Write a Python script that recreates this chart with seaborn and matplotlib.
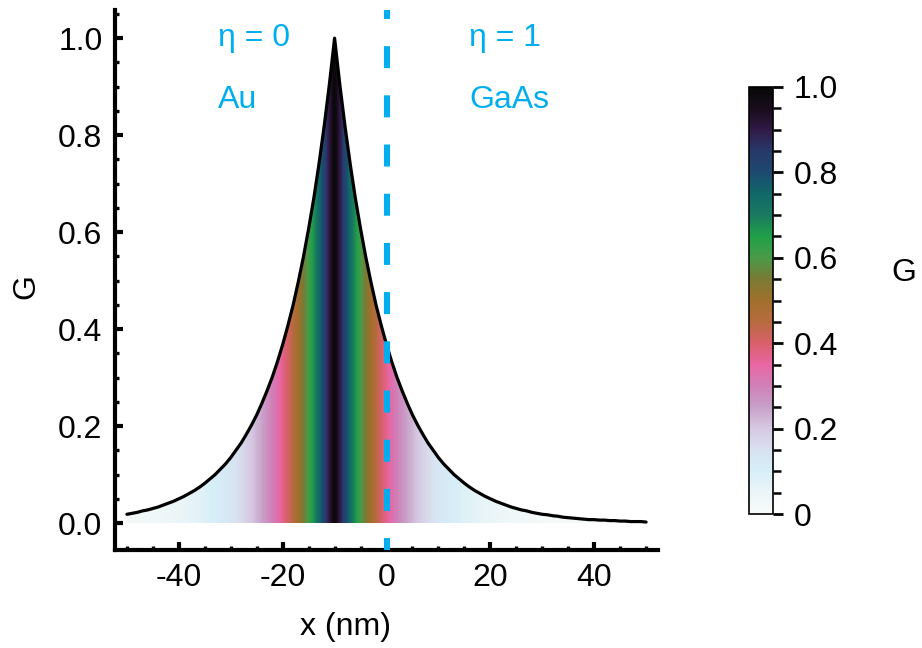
import numpy as np
import matplotlib
matplotlib.use("Agg")
import matplotlib.pyplot as plt
from matplotlib.patches import PathPatch
from matplotlib.cm import ScalarMappable
from matplotlib.colors import Normalize
import seaborn as sns

# Position across the interface (nm) and the normalised quantity G at each position
x_nm = list(range(-50, 51))
g_left = [0.018, 0.020, 0.022, 0.025, 0.027, 0.030, 0.033, 0.037, 0.041, 0.045,
          0.050, 0.055, 0.061, 0.067, 0.074, 0.082, 0.091, 0.100, 0.111, 0.122,
          0.135, 0.150, 0.165, 0.183, 0.202, 0.223, 0.247, 0.273, 0.301, 0.333,
          0.368, 0.407, 0.449, 0.497, 0.549, 0.607, 0.670, 0.741, 0.819, 0.905]
g_peak = [1.000]
g_right = [0.905, 0.819, 0.741, 0.670, 0.607, 0.549, 0.497, 0.449, 0.407, 0.368,
           0.333, 0.301, 0.273, 0.247, 0.223, 0.202, 0.183, 0.165, 0.150, 0.135,
           0.122, 0.111, 0.100, 0.091, 0.082, 0.074, 0.067, 0.061, 0.055, 0.050,
           0.045, 0.041, 0.037, 0.033, 0.030, 0.027, 0.025, 0.022, 0.020, 0.018,
           0.017, 0.015, 0.014, 0.012, 0.011, 0.010, 0.009, 0.008, 0.007, 0.007,
           0.006, 0.006, 0.005, 0.005, 0.004, 0.004, 0.003, 0.003, 0.003, 0.002]
g_values = g_left + g_peak + g_right

interface_x = 0
region_labels = [("η = 0", "Au", -32.5), ("η = 1", "GaAs", 15.9)]
x_ticks = [-40, -20, 0, 20, 40]
y_ticks = [0.0, 0.2, 0.4, 0.6, 0.8, 1.0]
cbar_ticks = [0, 0.2, 0.4, 0.6, 0.8, 1.0]
cbar_ticklabels = ["0", "0.2", "0.4", "0.6", "0.8", "1.0"]

# Colour stops of the G scale, from G = 0 (white) to G = 1 (black), every 0.05
scale_colors = ["#f8fbfa", "#eaf5f7", "#d6eef8", "#d8e2f0", "#d6c8e2",
                "#c8a0c8", "#d080b8", "#e866a4", "#d8606a", "#b86a40",
                "#a0702c", "#7a7a34", "#4a9a48", "#20a048", "#1a7a60",
                "#106868", "#1c4a70", "#283a6a", "#301a48", "#1a0c1c",
                "#080808"]

CYAN = "#00AEEF"
FS = 23

sns.set_style("ticks")
plt.rcParams["font.family"] = ["Liberation Sans", "DejaVu Sans"]
plt.rcParams.update({
    "axes.linewidth": 3.0,
    "axes.edgecolor": "black",
    "axes.labelcolor": "black",
    "text.color": "black",
    "xtick.color": "black",
    "ytick.color": "black",
})

cmap = sns.blend_palette(scale_colors, n_colors=256, as_cmap=True)

fig = plt.figure(figsize=(9.22, 6.48), dpi=100)
ax = fig.add_axes([0.1247, 0.1512, 0.589, 0.8333])

x = np.asarray(x_nm, dtype=float)
g = np.asarray(g_values, dtype=float)

# Area under the curve, coloured column by column by the local value of G
poly = ax.fill_between(x, 0, g, facecolor="none", edgecolor="none")
img = ax.imshow(g[np.newaxis, :], cmap=cmap, vmin=0, vmax=1, aspect="auto",
                interpolation="bilinear", origin="lower",
                extent=(x[0] - 0.5, x[-1] + 0.5, 0, 1), zorder=1)
clip = PathPatch(poly.get_paths()[0], transform=ax.transData,
                 facecolor="none", edgecolor="none")
ax.add_patch(clip)
img.set_clip_path(clip)

sns.lineplot(x=x, y=g, ax=ax, color="black", linewidth=2.3, zorder=3)

ax.set_xlim(-52.3, 52.3)
ax.set_ylim(-0.0557, 1.058)

# Interface between the two materials
ax.plot([interface_x, interface_x], [-0.0557, 1.058], color=CYAN, linewidth=4.4,
        linestyle=(1.65, (3.6, 4.45)), solid_capstyle="butt", zorder=4,
        clip_on=False)

for top, bottom, xpos in region_labels:
    ax.text(xpos, 0.983, top, color=CYAN, fontsize=FS, ha="left", va="baseline")
    ax.text(xpos, 0.856, bottom, color=CYAN, fontsize=FS, ha="left", va="baseline")

sns.despine(ax=ax)
ax.set_xticks(x_ticks)
ax.set_xticklabels([str(t) for t in x_ticks])
ax.set_yticks(y_ticks)
ax.set_yticklabels([f"{t:.1f}" for t in y_ticks])
ax.set_xticks(np.arange(-50, 51, 5), minor=True)
ax.set_yticks(np.arange(0, 1.051, 0.05), minor=True)
ax.tick_params(which="major", direction="in", length=5.5, width=3.0,
               labelsize=FS, pad=9)
ax.tick_params(which="minor", direction="in", length=3.2, width=2.4)
ax.set_xlabel("x (nm)", fontsize=FS)
ax.set_ylabel("G", fontsize=FS)
ax.xaxis.set_label_coords((346 - 115) / 543, -0.115)
ax.yaxis.set_label_coords(-0.136, 0.487)

# Colour scale for G
cax = fig.add_axes([749 / 922, 1 - 514 / 648, 24 / 922, 427 / 648])
sm = ScalarMappable(norm=Normalize(0, 1), cmap=cmap)
cbar = fig.colorbar(sm, cax=cax)
cbar.outline.set_linewidth(1.2)
cbar.set_ticks(cbar_ticks)
cbar.set_ticklabels(cbar_ticklabels)
cbar.ax.set_yticks(np.arange(0, 1.001, 0.05), minor=True)
cbar.ax.tick_params(which="major", direction="out", length=7, width=2.0,
                    labelsize=FS, pad=8)
cbar.ax.tick_params(which="minor", direction="out", length=6, width=1.8)
fig.text(904 / 922, 1 - 273 / 648, "G", fontsize=FS, ha="center", va="center")

fig.savefig("out.png", dpi=100)
